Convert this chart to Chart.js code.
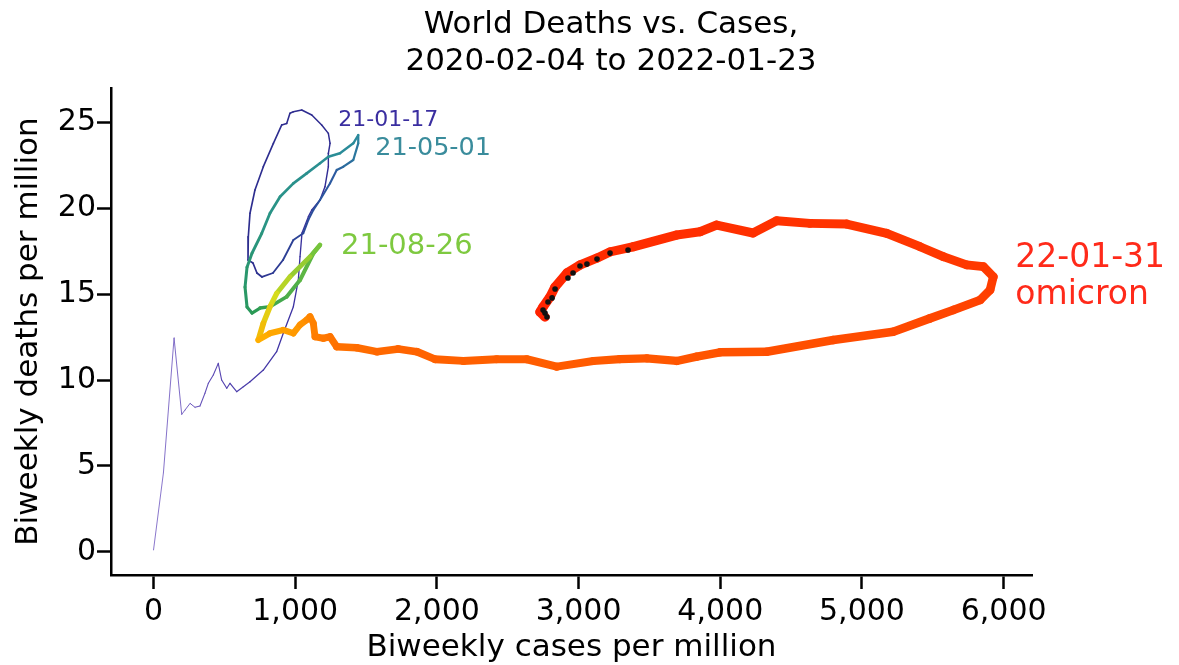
<!DOCTYPE html>
<html>
<head>
<meta charset="utf-8">
<script src="https://cdn.jsdelivr.net/npm/chart.js@4.4.1/dist/chart.umd.min.js"></script>
<style>
  html, body { margin: 0; padding: 0; background: #ffffff; }
  #myChart { display: block; }
</style>
</head>
<body>
<canvas id="myChart" width="1179" height="665"></canvas>
<script>
// daily path, biweekly cases per million (x) vs biweekly deaths per million (y)
const casesPath = [
    0, 70, 145, 199, 222, 258, 293, 328, 363, 387, 422,
    457, 481, 517, 540, 587, 634, 681, 775, 869, 916,
    987, 1022, 1034, 1048, 1093, 1117, 1175, 1210, 1234, 1234,
    1246, 1234, 1187, 1117, 1046, 987, 963, 940, 905, 846,
    775, 716, 681, 669, 667, 702, 730, 766, 843, 914,
    987, 1057, 1093, 1128, 1175, 1246, 1293, 1340, 1410, 1445,
    1445, 1410, 1316, 1234, 1175, 1081, 987, 893, 822, 764,
    695, 660, 646, 660, 695, 752, 822, 940, 1034, 1128,
    1175, 1105, 963, 870, 822, 775, 740, 822, 916, 987,
    1034, 1081, 1105, 1128, 1140, 1198, 1246, 1293, 1434, 1575,
    1728, 1858, 1987, 2186, 2422, 2634, 2846, 3104, 3292, 3481,
    3693, 3834, 3998, 4328, 4798, 5221, 5480, 5645, 5834, 5904,
    5927, 5857, 5739, 5574, 5410, 5175, 4892, 4633, 4398, 4231,
    3975, 3857, 3693, 3386, 3222, 3130, 3010, 2918, 2834, 2798,
    2749, 2728, 2763
]
const deathsPath = [
    0.1, 4.6, 12.45, 8.00, 8.25, 8.64, 8.41, 8.49, 9.23, 9.81, 10.29,
    10.97, 10.00, 9.52, 9.81, 9.32, 9.61, 9.90, 10.58, 11.65, 12.72,
    14.27, 15.82, 17.18, 18.56, 19.51, 19.90, 20.48, 21.25, 22.42, 23.20,
    23.78, 24.36, 24.85, 25.43, 25.72, 25.62, 25.53, 24.94, 24.85, 23.78,
    22.42, 21.06, 19.71, 18.34, 16.99, 16.81, 16.23, 16.00, 16.23, 16.99,
    18.15, 18.54, 19.32, 19.90, 20.48, 21.45, 22.23, 22.42, 22.81, 23.78,
    24.26, 23.78, 23.20, 23.00, 22.62, 22.03, 21.45, 20.67, 19.71, 18.54,
    17.38, 16.57, 15.41, 14.25, 13.90, 14.19, 14.27, 14.85, 15.82, 17.38,
    17.86, 17.18, 16.01, 15.05, 14.27, 13.30, 12.33, 12.72, 12.91, 12.72,
    13.21, 13.50, 13.69, 13.30, 12.52, 12.43, 12.52, 11.94, 11.88, 11.65,
    11.81, 11.65, 11.21, 11.11, 11.21, 11.21, 10.78, 11.11, 11.22, 11.26,
    11.11, 11.36, 11.61, 11.65, 12.33, 12.81, 13.59, 14.08, 14.66, 15.24,
    16.01, 16.60, 16.70, 17.18, 17.76, 18.54, 19.08, 19.12, 19.27, 18.56,
    19.02, 18.63, 18.44, 17.76, 17.46, 17.10, 16.70, 16.23, 15.42, 14.83,
    14.25, 13.96, 13.67
]

// black markers on the last stretch
const dotCases = [3349, 3222, 3130, 3059, 3010, 2961, 2925, 2834, 2813, 2784, 2749, 2763, 2777]
const dotDeaths = [17.57, 17.39, 17.04, 16.75, 16.64, 16.23, 15.94, 15.30, 14.78, 14.54, 14.07, 13.90, 13.67]

const xTicks = [0, 1000, 2000, 3000, 4000, 5000, 6000]
const yTicks = [0, 5, 10, 15, 20, 25]

// date notes, tied to a point of the path
const noteTexts = [['21-01-17'], ['21-05-01'], ['21-08-26'], ['22-01-31', 'omicron']]
const noteAt = [32, 61, 81, 121]

const titleLines = ['World Deaths vs. Cases,', '2020-02-04 to 2022-01-23']

// ---- styles ----
const FONT = '"DejaVu Sans", "Open Sans", sans-serif'
const colorStops = [
    [0, '#7d68c6'], [11, '#5846b2'], [20, '#3d33a3'], [31, '#2e2b90'],
    [46, '#2d2e8e'], [56, '#2c5aa0'], [61, '#2a8a9c'], [69, '#2a9484'],
    [75, '#2a9a55'], [81, '#76c43c'], [84, '#d6dc1c'], [87, '#ffae00'],
    [93, '#ff8400'], [101, '#ff6400'], [113, '#ff5200'], [121, '#ff3a00'],
    [143, '#ff2200']
]
const widthStops = [
    [0, 0.9], [20, 1.3], [46, 1.7], [61, 2.3], [75, 3.2], [81, 4.5],
    [87, 6], [99, 7.5], [113, 8.5], [143, 9.5]
]
const noteStyle = [
    { color: '#3a2ea0', size: 22, dx: 10, dy: -7 },
    { color: '#3a8c9c', size: 25.5, dx: 17, dy: 20 },
    { color: '#7ec940', size: 29, dx: 21, dy: 9 },
    { color: '#ff2a1a', size: 33, dx: 22, dy: -10, lineGap: 37 }
]

function hexToRgb(h) {
    return [parseInt(h.slice(1, 3), 16), parseInt(h.slice(3, 5), 16), parseInt(h.slice(5, 7), 16)]
}

function stopValue(stops, i) {
    for (let k = 1; k < stops.length; k++) {
        if (i <= stops[k][0]) {
            const a = stops[k - 1], b = stops[k]
            return [a[1], b[1], (i - a[0]) / (b[0] - a[0])]
        }
    }
    const last = stops[stops.length - 1]
    return [last[1], last[1], 0]
}

function colorAt(i) {
    const [a, b, t] = stopValue(colorStops, i)
    const ca = hexToRgb(a), cb = hexToRgb(b)
    const c = ca.map((v, k) => Math.round(v + (cb[k] - v) * t))
    return `rgb(${c[0]}, ${c[1]}, ${c[2]})`
}

function widthAt(i) {
    const [a, b, t] = stopValue(widthStops, i)
    return a + (b - a) * t
}

const pathPoints = casesPath.map((x, i) => ({ x: x, y: deathsPath[i] }))
const dotPoints = dotCases.map((x, i) => ({ x: x, y: dotDeaths[i] }))

// two-line title centred above the plot
const titlePlugin = {
    id: 'twoLineTitle',
    afterDraw(chart) {
        const ctx = chart.ctx
        ctx.save()
        ctx.fillStyle = '#000000'
        ctx.font = `31px ${FONT}`
        ctx.textAlign = 'center'
        ctx.textBaseline = 'alphabetic'
        ctx.fillText(titleLines[0], 611, 33)
        ctx.fillText(titleLines[1], 611, 70)
        ctx.restore()
    }
}

// coloured date labels next to the path
const notePlugin = {
    id: 'pathNotes',
    afterDatasetsDraw(chart) {
        const ctx = chart.ctx
        const xs = chart.scales.x, ys = chart.scales.y
        ctx.save()
        ctx.textAlign = 'left'
        ctx.textBaseline = 'alphabetic'
        noteTexts.forEach((lines, n) => {
            const st = noteStyle[n]
            const i = noteAt[n]
            const px = xs.getPixelForValue(casesPath[i]) + st.dx
            const py = ys.getPixelForValue(deathsPath[i]) + st.dy
            ctx.fillStyle = st.color
            ctx.font = `${st.size}px ${FONT}`
            lines.forEach((s, k) => ctx.fillText(s, px, py + k * (st.lineGap || 0)))
        })
        ctx.restore()
    }
}

const ctx = document.getElementById('myChart').getContext('2d')
const chart = new Chart(ctx, {
    type: 'scatter',
    data: {
        datasets: [{
            data: pathPoints,
            showLine: true,
            pointRadius: 0,
            pointHoverRadius: 0,
            borderColor: '#ff2200',
            borderWidth: 2,
            borderCapStyle: 'round',
            borderJoinStyle: 'round',
            tension: 0,
            segment: {
                borderColor: c => colorAt(c.p0DataIndex),
                borderWidth: c => widthAt(c.p0DataIndex)
            },
            order: 2
        }, {
            data: dotPoints,
            showLine: false,
            pointRadius: 2.8,
            pointBackgroundColor: '#111111',
            pointBorderWidth: 0,
            order: 1
        }]
    },
    options: {
        responsive: false,
        animation: false,
        devicePixelRatio: 1,
        layout: {
            padding: { top: 88, right: 147, bottom: 0, left: 0 }
        },
        plugins: {
            legend: { display: false },
            tooltip: { enabled: false },
            title: { display: false }
        },
        scales: {
            x: {
                type: 'linear',
                min: -300,
                max: 6200,
                afterBuildTicks: axis => { axis.ticks = xTicks.map(v => ({ value: v })) },
                afterFit: axis => { axis.height = 90 },
                ticks: {
                    color: '#000000',
                    padding: 5,
                    maxRotation: 0,
                    font: { family: FONT, size: 30 },
                    callback: v => v.toLocaleString('en-US')
                },
                grid: {
                    drawOnChartArea: false,
                    drawTicks: true,
                    tickLength: 14,
                    tickWidth: 2.5,
                    tickColor: '#000000'
                },
                border: { display: true, color: '#000000', width: 2.5 },
                title: {
                    display: true,
                    text: 'Biweekly cases per million',
                    color: '#000000',
                    font: { family: FONT, size: 31 },
                    padding: { top: 0, bottom: -2 }
                }
            },
            y: {
                type: 'linear',
                min: -1.35,
                max: 27,
                afterBuildTicks: axis => { axis.ticks = yTicks.map(v => ({ value: v })) },
                afterFit: axis => { axis.width = 111 },
                ticks: {
                    color: '#000000',
                    padding: 1,
                    font: { family: FONT, size: 30 }
                },
                grid: {
                    drawOnChartArea: false,
                    drawTicks: true,
                    tickLength: 14,
                    tickWidth: 2.5,
                    tickColor: '#000000'
                },
                border: { display: true, color: '#000000', width: 2.5 },
                title: {
                    display: true,
                    text: 'Biweekly deaths per million',
                    color: '#000000',
                    font: { family: FONT, size: 31 },
                    padding: { top: 10, bottom: 0 }
                }
            }
        }
    },
    plugins: [titlePlugin, notePlugin]
})
</script>
</body>
</html>
